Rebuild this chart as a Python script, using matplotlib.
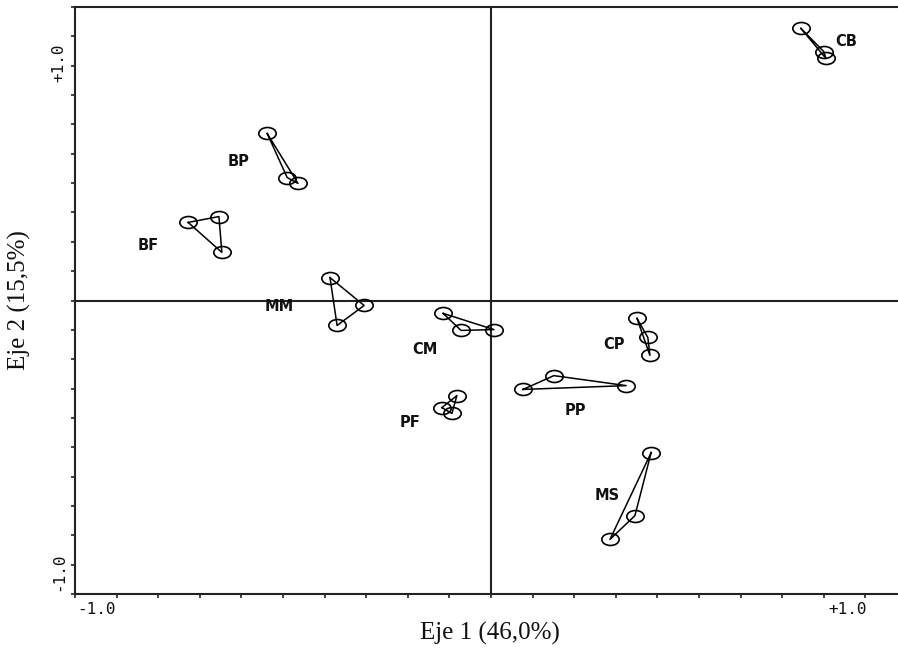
import numpy as np
import matplotlib
matplotlib.use("Agg")
import matplotlib.pyplot as plt
from matplotlib.path import Path
from matplotlib.markers import MarkerStyle
from matplotlib.transforms import Affine2D

# Group labels and their coordinates on the first two axes
groups = ["CB", "BP", "BF", "MM", "CM", "CP", "PP", "PF", "MS"]
eje1 = [
    [0.745, 0.800, 0.805],
    [-0.538, -0.490, -0.464],
    [-0.728, -0.654, -0.647],
    [-0.387, -0.305, -0.370],
    [-0.115, -0.072, 0.007],
    [0.351, 0.377, 0.382],
    [0.077, 0.151, 0.325],
    [-0.118, -0.082, -0.094],
    [0.385, 0.346, 0.286],
]
eje2 = [
    [0.927, 0.848, 0.825],
    [0.569, 0.419, 0.399],
    [0.266, 0.286, 0.164],
    [0.078, -0.017, -0.085],
    [-0.044, -0.102, -0.099],
    [-0.061, -0.126, -0.187],
    [-0.303, -0.256, -0.290],
    [-0.365, -0.324, -0.385],
    [-0.518, -0.733, -0.814],
]
label_x = [0.853, -0.606, -0.825, -0.510, -0.159, 0.296, 0.204, -0.195, 0.279]
label_y = [0.882, 0.474, 0.187, -0.020, -0.167, -0.150, -0.375, -0.416, -0.664]

W, H = 898, 652
fig = plt.figure(figsize=(W / 100, H / 100), dpi=100)

# axes: x from -1 (px 75) to +1 (px 907, past the right edge); y from -1 (px 594) to +1 (px 7)
left, right, top, bottom = 75, 907, 7, 594
ax = fig.add_axes([left / W, 1 - bottom / H, (right - left) / W, (bottom - top) / H])
ax.set_xlim(-1, 1)
ax.set_ylim(-1, 1)

for s in ["left", "bottom", "top"]:
    ax.spines[s].set_linewidth(1.5)
    ax.spines[s].set_color("#222222")
ax.spines["right"].set_visible(False)

ticks = np.round(np.arange(-1.0, 1.0001, 0.1), 2)
ax.set_xticks(ticks)
ax.set_yticks(ticks)
ax.set_xticklabels([])
ax.set_yticklabels([])
ax.tick_params(direction="out", length=3, width=1.2, color="#222222")

ax.axhline(0, color="#222222", lw=1.5, zorder=1)
ax.axvline(0, color="#222222", lw=1.5, zorder=1)

# elliptical hollow marker
ell = Path.unit_circle().transformed(Affine2D().scale(1.45, 1.0))
marker = MarkerStyle(ell)

for g, xs, ys, lx, ly in zip(groups, eje1, eje2, label_x, label_y):
    ax.plot(xs + xs[:1], ys + ys[:1], color="black", lw=1.1, zorder=2)
    ax.plot(xs, ys, linestyle="none", marker=marker, markersize=12.5,
            markerfacecolor="none", markeredgecolor="black",
            markeredgewidth=1.2, zorder=3)
    ax.text(lx, ly, g, ha="center", va="center", fontsize=10.5,
            family="DejaVu Sans", fontweight="bold", color="#111111")

# end labels of the axes
mono = dict(family="DejaVu Sans Mono", fontsize=11.5, color="#111111")
fig.text(97 / W, 1 - 609 / H, "-1.0", ha="center", va="center", **mono)
fig.text(848 / W, 1 - 609 / H, "+1.0", ha="center", va="center", **mono)
fig.text(59 / W, 1 - 63 / H, "+1.0", ha="center", va="center", rotation=90, **mono)
fig.text(59 / W, 1 - 572 / H, "-1.0", ha="center", va="center", rotation=90, **mono)

serif = dict(family="Liberation Serif", fontsize=18, color="#111111")
fig.text(490 / W, 1 - 633 / H, "Eje 1 (46,0%)", ha="center", va="center", **serif)
fig.text(19 / W, 1 - 300 / H, "Eje 2 (15,5%)", ha="center", va="center",
         rotation=90, **serif)

fig.savefig("out.png", dpi=100)
